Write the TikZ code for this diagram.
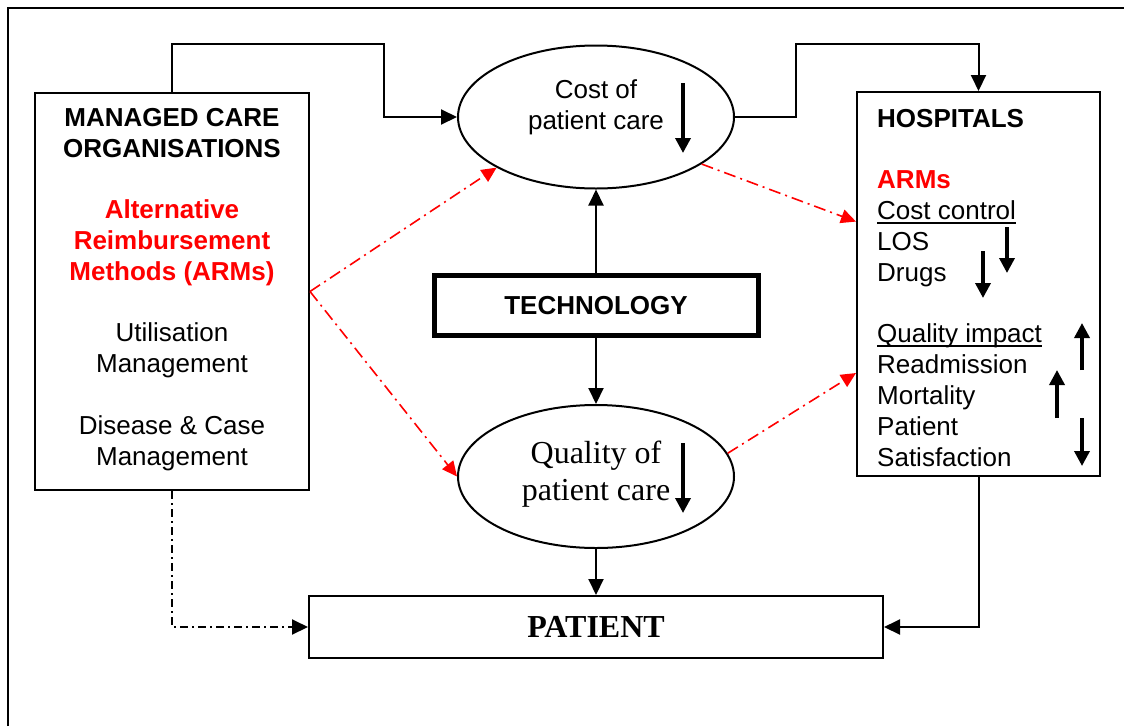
\documentclass[tikz,border=0pt]{standalone}
\usepackage{fontspec}
\setmainfont{Liberation Sans}
\newfontfamily\serifface{Liberation Serif}
\newsavebox\subbox
\newcommand{\subhead}[1]{\sbox\subbox{#1}\rlap{\rule[-3.8pt]{\wd\subbox}{1.8pt}}\usebox\subbox}
\usetikzlibrary{shapes.geometric, arrows.meta, positioning, calc}

\begin{document}
\begin{tikzpicture}[
    x=1pt, y=-1pt,
    font=\fontsize{26}{30.8}\selectfont,
    box/.style={rectangle, draw, line width=2pt, inner sep=0pt},
    oval/.style={ellipse, draw, line width=2pt, minimum width=276pt, minimum height=143pt, inner sep=0pt},
    arrow/.style={line width=2pt, -{Triangle[length=16pt, width=15pt]}},
    trend/.style={line width=3.5pt, -{Triangle[length=15pt, width=15pt]}},
    armlink/.style={red, line width=1.6pt, dash pattern=on 12pt off 5pt on 2pt off 5pt, -{Triangle[length=15pt, width=14pt]}},
    direct/.style={line width=2pt, dash pattern=on 8pt off 4pt on 2pt off 4pt, -{Triangle[length=16pt, width=15pt]}}
]
\useasboundingbox (0,0) rectangle (1124,726);

% Frame
\draw [line width=2.5pt] (8,726) -- (8,8) -- (1124,8);

% Nodes
\node (mco) [box, minimum width=274pt, minimum height=397pt] at (172,291.5) {};
\node (mcotext) [anchor=north, align=center, inner sep=0pt] at ($(mco.north)+(0,16)$)
    {\textbf{MANAGED CARE}\\\textbf{ORGANISATIONS}\\[30.8pt]
     \textcolor{red}{\textbf{Alternative}}\\\textcolor{red}{\textbf{Reimbursement}}\\\textcolor{red}{\textbf{Methods (ARMs)}}\\[30.8pt]
     Utilisation\\Management\\[30.8pt]
     Disease \& Case\\Management};

\node (hosp) [box, minimum width=243pt, minimum height=384pt] at (978.5,284) {};
\node (hosptext) [anchor=north west, align=left, inner sep=0pt] at ($(hosp.north west)+(21,18)$)
    {\textbf{HOSPITALS}\\[30.8pt]
     \textcolor{red}{\textbf{ARMs}}\\\subhead{Cost control}\\LOS\\Drugs\\[30.8pt]
     \subhead{Quality impact}\\Readmission\\Mortality\\Patient\\Satisfaction};

\node (cost) [oval] at (596,117) {};
\node (costtext) [align=center, yshift=10pt] at (cost) {Cost of\\patient care};

\node (tech) [box, line width=5pt, minimum width=324pt, minimum height=60pt, font=\fontsize{26}{30}\selectfont\bfseries] at (596,305.5) {TECHNOLOGY};

\node (qual) [oval] at (596,476.5) {};
\node (qualtext) [align=center, yshift=2pt, font=\serifface\fontsize{32}{37}\selectfont] at (qual) {Quality of\\patient care};

\node (patient) [box, minimum width=574pt, minimum height=62pt, font=\serifface\fontsize{32}{37}\selectfont\bfseries] at (596,627) {PATIENT};

\coordinate (topl) at (384,44);
\coordinate (topr) at (796,44);

% Connections
\draw [arrow] (mco.north) |- (topl) |- (cost.west);
\draw [arrow] (cost.east) -| (topr) -| (hosp.north);
\draw [arrow] (tech.north) -- (cost.south);
\draw [arrow] (tech.south) -- (qual.north);
\draw [arrow] (qual.south) -- (patient.north);
\draw [arrow] (hosp.south) |- (patient.east);
\draw [direct] (mco.south) |- (patient.west);

\draw [armlink] (mco.east) -- (cost.207);
\draw [armlink] (mco.east) -- (qual.west);
\draw [armlink] (cost.336) -- (hosp.153);
\draw [armlink] (qual.10) -- (hosp.216);

% Up and down trends
\draw [trend] (683,83) -- (683,153);
\draw [trend] (683,443) -- (683,513);
\draw [trend] (1007,227) -- (1007,273);
\draw [trend] (983,251) -- (983,298);
\draw [trend] (1082,370) -- (1082,323);
\draw [trend] (1057,418) -- (1057,370);
\draw [trend] (1082,418) -- (1082,466);

\end{tikzpicture}
\end{document}
